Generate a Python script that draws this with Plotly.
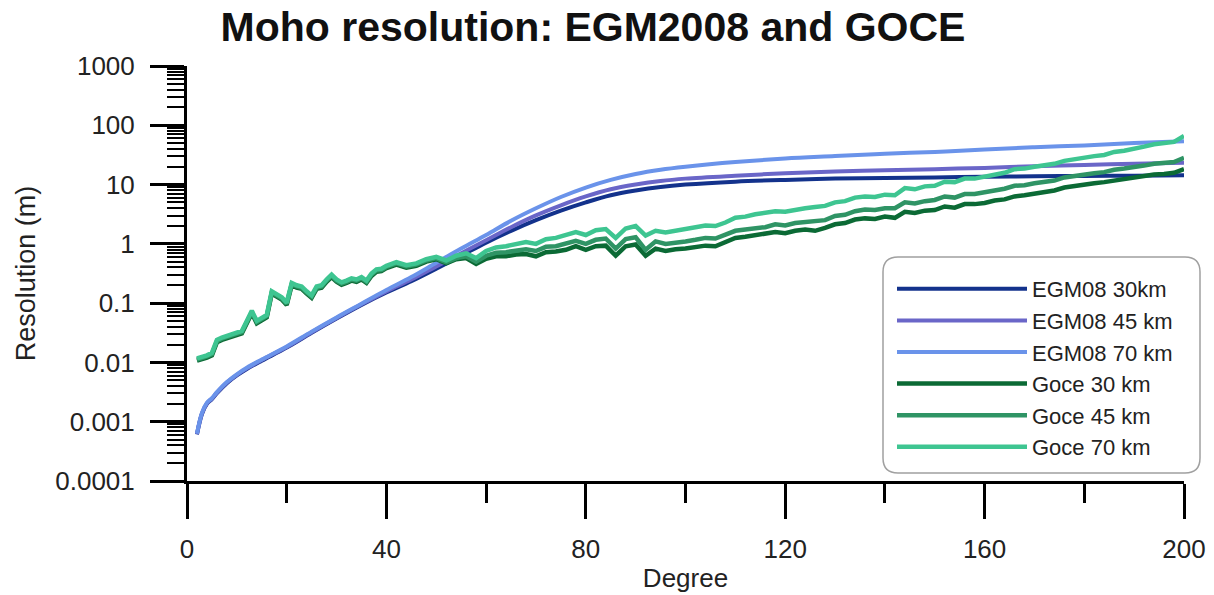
import plotly.graph_objects as go

# ---------------- data ----------------
egm_degree = [2, 3, 4, 5, 6, 8, 10, 12, 15, 20, 25, 30, 35, 40, 45, 50, 55, 60, 65, 70,
              75, 80, 85, 90, 95, 100, 110, 120, 130, 140, 150, 160, 170, 180, 190, 200]
egm08_30km = [0.00061, 0.00135, 0.002, 0.0024, 0.00302, 0.00447, 0.00603, 0.00776, 0.0107, 0.0178,
              0.0316, 0.055, 0.0933, 0.151, 0.234, 0.38, 0.631, 1.05, 1.66, 2.51,
              3.63, 5.01, 6.61, 7.94, 9.12, 10.0, 11.2, 12.0, 12.6, 12.9, 13.2, 13.5, 13.8, 14.0, 14.1, 14.3]
egm08_45km = [0.00062, 0.00138, 0.00204, 0.00245, 0.00309, 0.00457, 0.00617, 0.00794, 0.011, 0.0182,
              0.0324, 0.0562, 0.0955, 0.158, 0.251, 0.417, 0.692, 1.15, 1.91, 3.02,
              4.47, 6.31, 8.32, 10.0, 11.5, 12.6, 14.1, 15.5, 16.6, 17.4, 18.2, 19.1, 20.4, 21.4, 22.4, 23.4]
egm08_70km = [0.00063, 0.00141, 0.0021, 0.00251, 0.00316, 0.00468, 0.00631, 0.00813, 0.0112, 0.0186,
              0.0331, 0.0575, 0.0977, 0.166, 0.275, 0.479, 0.832, 1.41, 2.45, 3.98,
              6.17, 8.91, 12.0, 15.1, 17.8, 20.0, 24.0, 27.5, 30.2, 33.1, 35.5, 38.9, 42.7, 45.7, 50.1, 53.7]

goce_degree = list(range(2, 41)) + list(range(42, 201, 2))
goce_70km = [0.0117, 0.0123, 0.0132, 0.0145, 0.024, 0.0263, 0.0282, 0.0295, 0.0316, 0.0339,
             0.0501, 0.0741, 0.0501, 0.0575, 0.0631, 0.158, 0.138, 0.126, 0.102, 0.219,
             0.2, 0.191, 0.158, 0.135, 0.191, 0.2, 0.251, 0.302, 0.251, 0.224,
             0.24, 0.263, 0.251, 0.275, 0.24, 0.316, 0.372, 0.38, 0.427,
             0.49, 0.437, 0.468, 0.55, 0.603, 0.525, 0.631, 0.692, 0.575, 0.759,
             0.871, 0.912, 1.0, 1.07, 1.0, 1.2, 1.26, 1.38, 1.58, 1.41,
             1.7, 1.78, 1.26, 1.82, 2.0, 1.38, 1.66, 1.55, 1.66, 1.74,
             1.86, 2.04, 2.0, 2.29, 2.75, 2.88, 3.16, 3.31, 3.55, 3.47,
             3.8, 3.98, 4.17, 4.37, 5.01, 5.25, 6.03, 6.31, 6.17, 6.76,
             6.61, 8.71, 8.32, 9.33, 9.55, 11.2, 11.0, 12.6, 12.6, 13.5,
             15.1, 15.8, 18.2, 18.6, 20.0, 21.4, 22.4, 25.1, 26.9, 28.2,
             30.2, 31.6, 35.5, 37.2, 39.8, 43.7, 47.9, 50.1, 52.5, 66.1]
goce_45km = [0.0112, 0.0117, 0.0126, 0.0138, 0.0229, 0.0251, 0.0269, 0.0282, 0.0302, 0.0324,
             0.0479, 0.0708, 0.0479, 0.055, 0.0603, 0.151, 0.132, 0.12, 0.0977, 0.209,
             0.191, 0.182, 0.151, 0.129, 0.182, 0.191, 0.24, 0.288, 0.24, 0.214,
             0.229, 0.251, 0.24, 0.263, 0.229, 0.302, 0.355, 0.363, 0.407,
             0.468, 0.417, 0.447, 0.525, 0.575, 0.49, 0.575, 0.617, 0.501, 0.631,
             0.708, 0.724, 0.776, 0.813, 0.759, 0.891, 0.912, 1.0, 1.12, 1.0,
             1.17, 1.23, 0.832, 1.2, 1.29, 0.794, 1.1, 1.0, 1.07, 1.1,
             1.17, 1.26, 1.23, 1.41, 1.66, 1.74, 1.86, 1.91, 2.14, 2.04,
             2.24, 2.34, 2.4, 2.51, 2.95, 3.09, 3.55, 3.8, 3.72, 3.98,
             3.98, 5.01, 4.79, 5.25, 5.5, 6.31, 6.03, 6.92, 6.92, 7.41,
             8.13, 8.51, 9.55, 9.77, 10.5, 11.2, 11.7, 13.2, 14.1, 14.8,
             15.5, 16.2, 17.8, 18.6, 19.5, 20.9, 22.4, 22.9, 24.0, 28.2]
goce_30km = [0.0107, 0.0112, 0.012, 0.0132, 0.0219, 0.024, 0.0257, 0.0269, 0.0288, 0.0309,
             0.0457, 0.0676, 0.0457, 0.0525, 0.0575, 0.145, 0.126, 0.115, 0.0933, 0.2,
             0.182, 0.174, 0.145, 0.123, 0.174, 0.182, 0.229, 0.275, 0.229, 0.204,
             0.219, 0.24, 0.229, 0.251, 0.219, 0.288, 0.339, 0.347, 0.389,
             0.447, 0.398, 0.427, 0.501, 0.55, 0.468, 0.55, 0.575, 0.457, 0.562,
             0.617, 0.617, 0.661, 0.676, 0.617, 0.724, 0.741, 0.794, 0.912, 0.794,
             0.912, 0.933, 0.631, 0.912, 0.977, 0.631, 0.832, 0.759, 0.813, 0.832,
             0.871, 0.933, 0.912, 1.05, 1.26, 1.32, 1.41, 1.45, 1.58, 1.51,
             1.66, 1.74, 1.66, 1.86, 2.14, 2.24, 2.57, 2.69, 2.63, 2.88,
             2.75, 3.47, 3.31, 3.63, 3.72, 4.27, 4.07, 4.68, 4.68, 4.9,
             5.37, 5.62, 6.31, 6.61, 7.08, 7.59, 7.94, 8.91, 9.55, 10.0,
             10.5, 11.0, 11.7, 12.3, 12.9, 13.8, 14.8, 15.1, 15.8, 18.2]

series_names = ["EGM08 30km", "EGM08 45 km", "EGM08 70 km", "Goce 30 km", "Goce 45 km", "Goce 70 km"]
series_colors = ["#13328c", "#6a66c8", "#6a93ea", "#0b6a35", "#2f9465", "#3ec591"]

y_tick_vals = [0.0001, 0.001, 0.01, 0.1, 1, 10, 100, 1000]
y_tick_text = ["0.0001", "0.001", "0.01", "0.1", "1", "10", "100", "1000"]
x_tick_vals = [0, 40, 80, 120, 160, 200]
x_minor_vals = [20, 60, 100, 140, 180]

FONT = "Liberation Sans, Arial, sans-serif"

fig = go.Figure()
egm_sets = [egm08_30km, egm08_45km, egm08_70km]
for i, ys in enumerate(egm_sets):
    fig.add_trace(go.Scatter(x=egm_degree, y=ys, mode="lines", name=series_names[i],
                             legendgroup=series_names[i],
                             line=dict(color=series_colors[i], width=4, shape="spline", smoothing=1)))
goce_sets = [goce_30km, goce_45km, goce_70km]
for j, ys in enumerate(goce_sets):
    k = j + 3
    fig.add_trace(go.Scatter(x=goce_degree, y=ys, mode="lines", name=series_names[k],
                             legendgroup=series_names[k],
                             line=dict(color=series_colors[k], width=4.5)))

# legend frame (rounded)
L, R, T, B = 187, 1184, 66, 481
def px2paper_x(p):
    return (p - L) / (R - L)
def px2paper_y(p):
    return (B - p) / (B - T)
x0, x1 = px2paper_x(883), px2paper_x(1200)
y0, y1 = px2paper_y(473), px2paper_y(257)
rx, ry = 15 / (R - L), 15 / (B - T)
path = (f"M {x0+rx},{y0} L {x1-rx},{y0} Q {x1},{y0} {x1},{y0+ry} "
        f"L {x1},{y1-ry} Q {x1},{y1} {x1-rx},{y1} L {x0+rx},{y1} "
        f"Q {x0},{y1} {x0},{y1-ry} L {x0},{y0+ry} Q {x0},{y0} {x0+rx},{y0} Z")
fig.add_shape(type="path", path=path, xref="paper", yref="paper",
              line=dict(color="#a0a0a0", width=1.5), fillcolor="white", layer="below")

fig.update_layout(
    width=1214, height=595,
    margin=dict(l=L, r=1214 - R, t=T, b=595 - B, autoexpand=False),
    paper_bgcolor="white", plot_bgcolor="white",
    font=dict(family=FONT, color="#222222"),
    title=dict(text="<b>Moho resolution: EGM2008 and GOCE</b>", x=593 / 1214, xanchor="center",
               y=1 - 27 / 595, yanchor="middle",
               font=dict(family=FONT, size=41, color="#111111")),
    showlegend=True,
    legend=dict(x=px2paper_x(892), y=px2paper_y(268), xanchor="left", yanchor="top",
                bgcolor="rgba(0,0,0,0)", borderwidth=0, itemwidth=130,
                tracegroupgap=0, font=dict(family=FONT, size=22, color="#222222")),
)

fig.update_xaxes(range=[0, 200], showgrid=False, zeroline=False, automargin=False,
                 showline=True, linecolor="black", linewidth=3,
                 tickmode="array", tickvals=x_tick_vals, ticks="outside",
                 ticklen=35, tickwidth=3, tickcolor="black",
                 tickfont=dict(family=FONT, size=26, color="#222222"),
                 ticklabelstandoff=8,
                 minor=dict(tickmode="array", tickvals=x_minor_vals, ticks="outside",
                            ticklen=19, tickwidth=3, tickcolor="black", showgrid=False),
                 title=dict(text="Degree", font=dict(family=FONT, size=26, color="#222222"), standoff=6))

y_minor_vals = [m * 10.0 ** e for e in range(-4, 3) for m in range(2, 10)]
fig.update_yaxes(type="log", range=[-4, 3], showgrid=False, zeroline=False, automargin=False,
                 showline=True, linecolor="black", linewidth=3,
                 tickmode="array", tickvals=y_tick_vals, ticktext=y_tick_text, ticks="outside",
                 ticklen=34, tickwidth=3, tickcolor="black",
                 tickfont=dict(family=FONT, size=26, color="#222222"),
                 ticklabelstandoff=10,
                 minor=dict(tickmode="array", tickvals=y_minor_vals, ticks="outside",
                            ticklen=17, tickwidth=2, tickcolor="black", showgrid=False),
                 title=dict(text="Resolution (m)", font=dict(family=FONT, size=27, color="#222222"), standoff=12))

fig.write_html("out.html", config={"displayModeBar": False},
               post_script="document.body.style.margin='0';document.body.style.overflow='hidden';")
